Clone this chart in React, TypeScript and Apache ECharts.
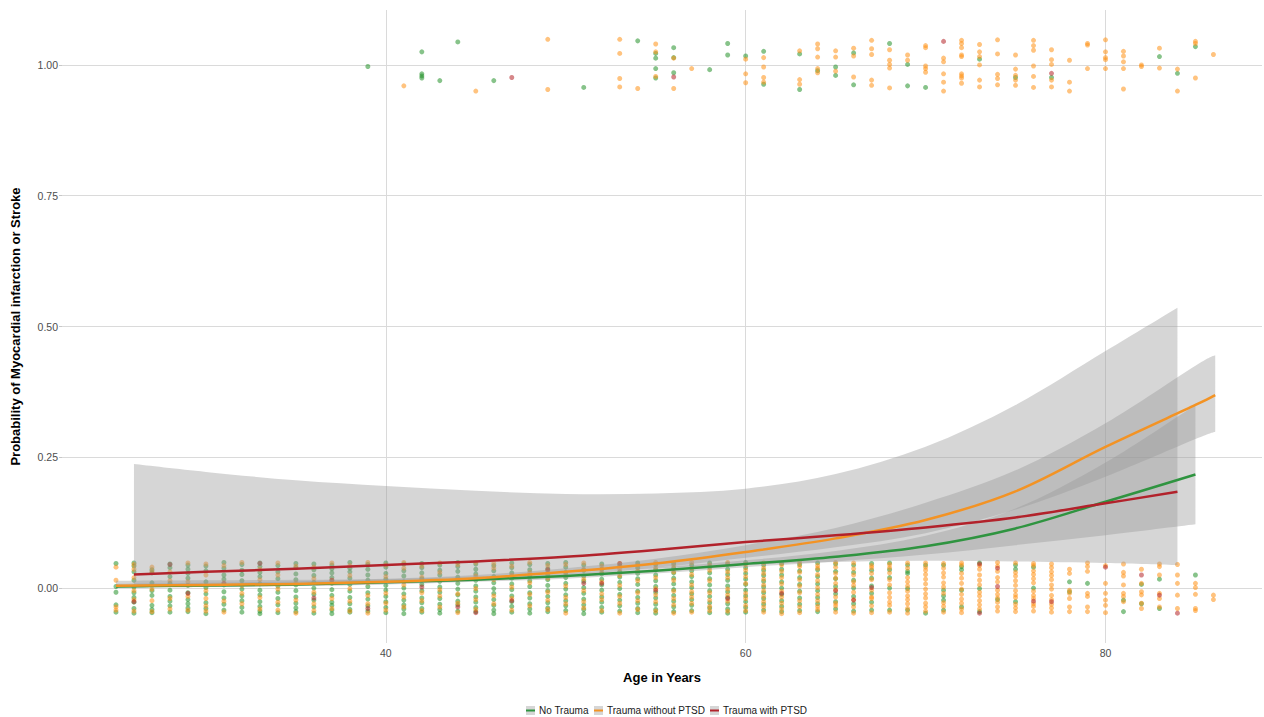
import React, { useEffect, useRef } from 'react';
import * as echarts from 'echarts';

const FONT = '"Liberation Sans", Arial, Helvetica, sans-serif';

const groups = ['No Trauma', 'Trauma without PTSD', 'Trauma with PTSD'];
const lineColors = ['#2f9440', '#f39324', '#b2222b'];
const pointColors = ['rgba(34,145,40,0.68)', 'rgba(255,145,20,0.68)', 'rgba(180,34,38,0.68)'];

const xTicks = [40, 60, 80];
const yTicks = [0, 0.25, 0.5, 0.75, 1];

// Outcome = 0 rows (jittered around 0): [age, No Trauma, Trauma without PTSD, Trauma with PTSD], offsets in hundredths
const zeroRows: [number, string, string, string][] = [
  [25, '4.7 0.3 -0.8 -3.2 -4.6', '4.0 1.5 -3.6 -4.2', ''],
  [26, '4.8 4.2 3.1 1.5 0.2 -0.9 -1.8 -2.7 -3.9 -4.8', '4.5 3.6 2.0 -0.5 -2.2 -4.4', '-2.6'],
  [27, '3.5 2.9 1.0 -0.5 -1.4 -3.3 -4.1 -4.7', '4.0 3.2 -0.2 -2.4 -4.5', ''],
  [28, '4.6 3.9 2.2 0.9 -0.4 -1.6 -2.5 -3.4 -4.6', '3.1 1.4 -2.0 -4.0', '4.5'],
  [29, '4.4 3.6 2.8 1.9 0.5 -0.9 -2.2 -3.0 -3.8 -4.5', '4.8 1.2 -1.6 -4.2', '-1.0'],
  [30, '4.2 3.3 1.2 0.1 -1.1 -2.8 -3.9 -4.9', '4.6 2.5 -0.5 -2.0 -3.4 -4.4', ''],
  [31, '4.9 3.8 2.5 1.7 0.6 -0.7 -1.9 -3.1 -4.2', '4.3 1.0 -2.5 -4.6', '0.9'],
  [32, '4.5 3.4 2.6 1.4 -0.2 -1.5 -2.4 -3.7 -4.6', '4.9 0.5 -1.0 -3.0', ''],
  [33, '4.8 4.1 3.0 2.2 0.8 -0.4 -1.3 -2.6 -3.5 -4.4 -4.9', '3.6 1.6 -1.8 -4.0', '4.7'],
  [34, '4.3 3.1 1.8 0.4 -0.8 -2.0 -3.2 -4.7', '4.8 2.5 -0.2 -2.7 -4.2', ''],
  [35, '4.7 3.9 2.7 1.6 0.6 -0.5 -1.7 -2.9 -3.8 -4.5', '4.2 1.0 -2.3 -4.8', ''],
  [36, '4.6 3.5 2.4 1.1 0.0 -1.2 -2.3 -3.6 -4.8', '4.0 1.8 -0.8 -3.0 -4.3', '-1.9'],
  [37, '4.4 3.7 2.9 2.0 0.9 -0.3 -1.4 -2.7 -3.3 -4.2 -4.9', '4.8 1.5 -2.0 -3.9', '1.5'],
  [38, '4.9 3.8 3.1 1.9 0.7 -0.6 -1.8 -3.0 -4.1 -4.6', '4.3 2.4 -0.1 -2.5 -4.4', ''],
  [39, '4.5 3.6 2.5 1.5 0.3 -0.9 -2.1 -3.4 -4.4', '4.9 1.0 -1.4 -3.0 -4.8', '-3.9'],
  [40, '4.8 4.0 2.8 1.7 0.5 -0.4 -1.6 -2.6 -3.7 -4.7', '4.4 2.2 -1.0 -2.9 -4.2', ''],
  [41, '4.6 3.3 2.3 1.2 0.0 -1.1 -2.3 -3.2 -4.0 -4.9', '4.9 3.8 0.6 -1.7 -3.6', ''],
  [42, '4.7 3.9 2.9 1.8 0.7 -0.5 -1.9 -2.8 -3.9 -4.6', '4.2 2.1 -0.9 -2.4 -4.3', '0.2'],
  [43, '4.4 3.4 2.5 1.3 0.2 -0.8 -2.0 -3.1 -4.1 -4.8', '4.8 3.0 -0.3 -1.5 -3.6', ''],
  [44, '4.9 4.1 3.2 2.1 0.9 -0.2 -1.3 -2.5 -3.2 -4.4', '4.5 1.6 -1.1 -2.9 -4.7', '-3.6'],
  [45, '4.6 3.6 2.7 1.5 0.4 -0.6 -1.7 -2.7 -3.7 -4.5', '4.9 2.3 -0.1 -2.2 -4.1', '-4.7'],
  [46, '4.3 3.3 2.2 1.0 -0.1 -1.0 -2.2 -3.3 -4.2 -4.9', '4.7 3.8 1.6 -1.5 -3.0', ''],
  [47, '4.8 3.9 2.9 1.9 0.8 -0.3 -1.5 -2.6 -3.5 -4.6', '4.2 2.4 0.2 -2.0 -4.2', '-2.4'],
  [48, '4.5 3.5 2.4 1.4 0.3 -0.9 -1.9 -3.0 -4.0 -4.8', '4.9 3.0 1.0 -1.2 -3.4', ''],
  [49, '4.7 3.7 2.6 1.6 0.5 -0.5 -1.6 -2.8 -3.8 -4.5', '4.3 3.3 1.9 -0.8 -2.3 -4.1', '3.5'],
  [50, '4.9 4.0 3.0 2.0 0.9 -0.2 -1.3 -2.4 -3.4 -4.3', '4.5 2.5 0.4 -1.8 -3.0 -4.8', ''],
  [51, '4.4 3.4 2.3 1.3 0.1 -1.0 -2.1 -3.2 -4.1 -4.9', '4.8 3.6 1.7 -0.5 -2.6 -3.8', '0.9'],
  [52, '4.6 3.6 2.7 1.7 0.6 -0.4 -1.7 -2.7 -3.7 -4.6', '4.2 3.0 1.2 -1.1 -2.2 -4.3', '0.9'],
  [53, '4.3 3.1 2.1 1.1 -0.1 -1.2 -2.3 -3.4 -4.4', '4.7 3.7 2.4 0.5 -1.6 -2.9 -4.8', '4.7'],
  [54, '4.8 3.9 2.8 1.8 0.7 -0.6 -1.8 -2.9 -3.9 -4.7', '4.4 3.3 1.4 -0.9 -2.4 -4.1', ''],
  [55, '4.5 3.5 2.5 1.4 0.3 -0.8 -1.9 -3.1 -4.1 -4.8', '4.9 3.9 2.0 -0.1 -1.3 -2.6 -4.4', '-0.4'],
  [56, '4.7 3.8 2.9 1.9 0.8 -0.3 -1.4 -2.5 -3.6 -4.5', '4.3 3.1 1.5 -0.6 -2.0 -3.2 -4.8', ''],
  [57, '4.4 3.3 2.2 1.2 0.1 -1.1 -2.2 -3.3 -4.3', '4.9 3.8 2.6 0.6 -0.7 -1.7 -2.9 -4.6', ''],
  [58, '4.8 4.0 2.9 1.8 0.6 -0.5 -1.6 -2.8 -3.8 -4.7', '4.4 3.4 1.4 -0.9 -2.3 -3.5 -4.3', ''],
  [59, '4.6 3.6 2.6 1.5 0.4 -0.7 -1.8 -3.0 -4.0 -4.8', '4.9 3.1 2.0 -0.2 -1.3 -2.5 -4.4', '-2.0'],
  [60, '4.9 3.9 2.8 1.7 0.7 -0.4 -1.5 -2.6 -3.7 -4.6', '4.5 3.4 2.2 0.9 -1.0 -2.0 -3.3 -4.3', ''],
  [61, '4.4 3.4 2.4 1.3 0.2 -0.9 -2.0 -3.1 -4.2', '4.8 3.8 2.8 1.7 0.6 -0.5 -1.6 -2.6 -3.6 -4.6', ''],
  [62, '4.7 3.6 2.5 1.2 0.0 -1.2 -2.4 -3.5 -4.5', '4.4 3.2 2.0 0.8 -0.6 -1.7 -2.9 -4.0 -4.9', '-1.0'],
  [63, '4.5 3.3 2.0 0.7 -0.6 -1.9 -3.1 -4.3', '4.9 4.1 3.0 1.6 0.4 -0.9 -2.4 -3.6 -4.7', ''],
  [64, '4.8 3.5 2.2 0.8 -0.5 -1.8 -3.0 -4.5', '4.3 3.8 2.6 1.4 0.1 -1.2 -2.4 -3.5 -4.1', ''],
  [65, '4.6 3.2 1.8 0.3 -1.1 -2.6 -4.0', '4.9 4.0 2.8 1.9 0.9 -0.3 -1.7 -2.9 -3.4 -4.6', '-0.5'],
  [66, '4.4 3.0 1.5 0.0 -1.6 -3.0 -4.4', '4.8 3.7 2.5 1.2 0.5 -0.8 -2.2 -3.6 -4.8', '-2.3'],
  [67, '4.7 3.4 1.9 0.4 -1.0 -2.7 -4.2', '4.3 3.9 2.8 1.6 -0.4 -1.7 -2.0 -3.4 -4.7', '0.1'],
  [68, '4.8 3.5 2.0 0.0 -4.2', '4.5 3.9 2.9 1.6 0.6 -0.9 -1.8 -2.7 -3.3 -4.6', ''],
  [69, '4.4 3.2 2.8 -0.1 -4.2', '4.8 3.8 2.0 1.2 0.4 -0.6 -1.5 -2.2 -3.0 -3.9 -4.8', ''],
  [70, '4.4 -4.8', '4.8 4.0 3.4 2.6 1.7 0.8 -0.2 -1.1 -1.9 -2.9 -3.6 -4.4', ''],
  [71, '4.4 -0.4 -1.5 -2.3 -4.2', '4.7 3.8 2.9 2.1 1.0 0.2 -1.0 -2.8 -3.5 -4.6', ''],
  [72, '4.1 3.5 -0.4 -3.6', '4.8 4.4 2.8 1.9 0.9 -0.2 -1.2 -2.1 -2.9 -4.0 -4.7', ''],
  [73, '4.8 -0.1 -4.5', '4.3 3.6 2.5 1.5 0.6 -0.8 -1.5 -2.4 -3.2 -4.0', '4.6 -4.8'],
  [74, '-2.2', '4.9 4.2 3.2 2.0 1.2 -0.4 -1.2 -1.9 -2.7 -3.6 -4.4', '3.8 0.3'],
  [75, '4.4 3.6 -2.6', '4.8 3.0 2.3 1.4 0.5 -0.5 -1.3 -1.8 -3.1 -3.8 -4.5', ''],
  [76, '4.0 0.0', '4.7 4.3 3.3 2.6 1.8 1.0 -0.6 -1.4 -2.0 -3.0 -3.5 -4.4', '-2.5'],
  [77, '', '4.6 3.9 3.1 2.4 1.6 0.6 -0.2 -1.4 -2.2 -3.1 -3.8 -4.6', '-2.6'],
  [78, '1.2 -0.7', '3.6 2.8 -0.4 -1.0 -2.0 -3.6 -4.5', ''],
  [79, '0.9', '4.8 4.1 3.2 -1.0 -1.6 -3.6 -4.5', ''],
  [80, '', '4.3 0.9 -1.0 -2.3 -3.3 -4.7', '4.0'],
  [81, '-2.3 -4.5', '4.6 3.0 2.3 0.6 -1.0 -1.6 -2.6', ''],
  [82, '0.7 -3.0', '3.6 0.9 -0.7 -1.3 -2.9 -3.9', '2.5'],
  [83, '1.7 -3.9', '4.6 4.1 2.5 -1.0 -2.0 -3.6', '-1.35'],
  [84, '', '4.5 2.5 0.9 -1.35 -3.9', '-4.8'],
  [85, '2.5', '0.9 0.1 -1.2 -3.9 -4.3', ''],
  [86, '', '-1.35 -2.2', ''],
];

// Outcome = 1 points: [age, jittered value]
const topNoTrauma: [number, number][] = [
  [39, 0.997], [42, 1.025], [42, 0.983], [42, 0.979], [42, 0.975], [43, 0.970], [44, 1.044], [46, 0.970],
  [51, 0.957], [54, 1.046], [55, 1.022], [55, 1.013], [55, 0.993], [55, 0.975], [56, 1.033], [56, 1.014],
  [56, 0.985], [58, 0.991], [59, 1.041], [59, 1.019], [60, 1.017], [61, 1.026], [61, 0.963], [63, 1.021],
  [63, 0.953], [64, 0.989], [65, 0.996], [65, 0.980], [66, 1.023], [66, 0.962], [68, 1.041], [69, 1.001],
  [69, 0.960], [70, 0.957], [73, 1.011], [75, 0.976], [77, 0.976], [83, 1.016], [84, 0.984], [85, 1.035],
];
const topTraumaNoPTSD: [number, number][] = [
  [41, 0.960], [45, 0.950], [49, 1.049], [49, 0.953], [53, 1.049], [53, 1.022], [53, 0.974], [53, 0.958],
  [54, 0.955], [55, 1.040], [55, 1.025], [55, 0.978], [56, 1.013], [56, 0.955], [57, 0.993], [60, 1.011],
  [60, 0.983], [60, 0.966], [61, 1.014], [61, 0.996], [61, 0.976], [61, 0.967], [63, 1.027], [63, 0.972],
  [63, 0.963], [64, 1.040], [64, 1.031], [64, 1.015], [64, 0.993], [64, 0.985], [65, 1.027], [65, 1.015],
  [65, 0.988], [66, 1.032], [66, 1.017], [66, 0.977], [67, 1.047], [67, 1.031], [67, 1.020], [67, 0.971],
  [67, 0.961], [68, 1.029], [68, 1.009], [68, 1.001], [68, 0.994], [68, 0.956], [69, 1.019], [69, 1.009],
  [70, 1.037], [70, 1.033], [70, 0.998], [70, 0.993], [70, 0.986], [71, 1.013], [71, 1.006], [71, 0.983],
  [71, 0.967], [71, 0.950], [72, 1.047], [72, 1.041], [72, 1.033], [72, 1.019], [72, 1.016], [72, 0.983],
  [72, 0.979], [72, 0.975], [72, 0.965], [73, 1.039], [73, 1.025], [73, 1.016], [73, 1.000], [73, 0.971],
  [73, 0.958], [74, 1.048], [74, 1.021], [74, 0.982], [74, 0.974], [74, 0.962], [75, 1.019], [75, 0.992],
  [75, 0.980], [75, 0.971], [75, 0.961], [76, 1.047], [76, 1.037], [76, 1.028], [76, 0.998], [76, 0.978],
  [76, 0.957], [77, 1.029], [77, 1.010], [77, 1.001], [77, 0.971], [77, 0.958], [78, 1.009], [78, 0.967],
  [78, 0.950], [79, 1.041], [79, 1.038], [79, 0.993], [80, 1.048], [80, 1.025], [80, 1.014], [80, 1.010],
  [80, 0.993], [81, 1.026], [81, 1.017], [81, 1.006], [81, 0.993], [81, 0.954], [82, 1.000], [82, 0.997],
  [83, 1.032], [83, 0.994], [84, 0.992], [84, 0.950], [85, 1.045], [85, 1.041], [85, 0.975], [86, 1.020],
];
const topTraumaPTSD: [number, number][] = [[47, 0.976], [56, 0.977], [71, 1.045], [77, 0.984]];

// Logistic fits with 95% confidence bands
const agesNoTrauma = [25, 30, 35, 40, 45, 50, 55, 60, 65, 70, 75, 80, 85];
const fitNoTrauma = [0.003, 0.005, 0.007, 0.011, 0.016, 0.023, 0.033, 0.046, 0.06, 0.08, 0.114, 0.165, 0.217];
const lowNoTrauma = [0.001, 0.002, 0.004, 0.007, 0.012, 0.018, 0.028, 0.04, 0.051, 0.064, 0.082, 0.101, 0.122];
const highNoTrauma = [0.008, 0.01, 0.013, 0.017, 0.022, 0.029, 0.039, 0.053, 0.071, 0.1, 0.152, 0.24, 0.35];

const agesTraumaNoPTSD = [25, 30, 35, 40, 45, 50, 55, 60, 65, 70, 75, 80, 85, 86.1];
const fitTraumaNoPTSD = [0.0045, 0.006, 0.008, 0.012, 0.019, 0.031, 0.047, 0.069, 0.095, 0.13, 0.185, 0.27, 0.35, 0.369];
const lowTraumaNoPTSD = [0.001, 0.002, 0.004, 0.008, 0.014, 0.025, 0.039, 0.058, 0.078, 0.105, 0.15, 0.213, 0.285, 0.299];
const highTraumaNoPTSD = [0.014, 0.015, 0.016, 0.018, 0.025, 0.038, 0.056, 0.082, 0.115, 0.163, 0.225, 0.315, 0.425, 0.445];

const agesTraumaPTSD = [26, 30, 35, 40, 45, 50, 55, 60, 65, 70, 75, 80, 84];
const fitTraumaPTSD = [0.026, 0.031, 0.037, 0.044, 0.051, 0.06, 0.073, 0.088, 0.101, 0.116, 0.135, 0.162, 0.184];
const lowTraumaPTSD = [0.003, 0.005, 0.009, 0.014, 0.021, 0.03, 0.038, 0.045, 0.05, 0.052, 0.051, 0.048, 0.044];
const highTraumaPTSD = [0.237, 0.222, 0.206, 0.195, 0.186, 0.18, 0.181, 0.19, 0.218, 0.27, 0.35, 0.453, 0.536];

const fits = [
  { ages: agesNoTrauma, fit: fitNoTrauma, low: lowNoTrauma, high: highNoTrauma },
  { ages: agesTraumaNoPTSD, fit: fitTraumaNoPTSD, low: lowTraumaNoPTSD, high: highTraumaNoPTSD },
  { ages: agesTraumaPTSD, fit: fitTraumaPTSD, low: lowTraumaPTSD, high: highTraumaPTSD },
];
const tops = [topNoTrauma, topTraumaNoPTSD, topTraumaPTSD];

// legend layout (pixels)
const legendKeyX = [526, 594, 710];
const legendTextX = [539, 607, 723];

// Catmull-Rom spline through pixel points -> SVG path commands (without the initial move)
function splineSegs(p: number[][]): string {
  let d = '';
  for (let i = 0; i < p.length - 1; i++) {
    const p0 = p[Math.max(0, i - 1)];
    const p1 = p[i];
    const p2 = p[i + 1];
    const p3 = p[Math.min(p.length - 1, i + 2)];
    const c1x = p1[0] + (p2[0] - p0[0]) / 6;
    const c1y = p1[1] + (p2[1] - p0[1]) / 6;
    const c2x = p2[0] - (p3[0] - p1[0]) / 6;
    const c2y = p2[1] - (p3[1] - p1[1]) / 6;
    d += ` C ${c1x} ${c1y} ${c2x} ${c2y} ${p2[0]} ${p2[1]}`;
  }
  return d;
}

function buildOption() {
  const series: any[] = [];

  // gridlines via markLine
  series.push({
    type: 'line',
    data: [[40, 0]],
    symbol: 'none',
    silent: true,
    z: 0,
    lineStyle: { opacity: 0 },
    markLine: {
      silent: true,
      z: 0,
      symbol: ['none', 'none'],
      label: { show: false },
      lineStyle: { color: '#dadada', width: 1, type: 'solid' },
      emphasis: { disabled: true },
      data: [...xTicks.map((v) => ({ xAxis: v })), ...yTicks.map((v) => ({ yAxis: v }))],
    },
  });

  groups.forEach((g, gi) => {
    const pts: [number, number][] = [];
    zeroRows.forEach((row) => {
      const s = row[gi + 1];
      s.split(/\s+/).filter(Boolean).forEach((t) => pts.push([row[0], Number(t) / 100]));
    });
    tops[gi].forEach((p) => pts.push([p[0], p[1]]));
    series.push({
      name: g + ' points',
      type: 'scatter',
      data: pts,
      symbolSize: 5,
      z: 2,
      silent: true,
      itemStyle: { color: pointColors[gi], borderWidth: 0 },
    });
  });

  // confidence bands
  fits.forEach((f, gi) => {
    series.push({
      type: 'custom',
      z: 3,
      silent: true,
      data: f.ages.map((a, i) => [a, f.low[i], f.high[i]]),
      encode: { x: 0, y: [1, 2] },
      renderItem: (params: any, api: any) => {
        if (params.dataIndex !== 0) return null;
        const up = f.ages.map((a, i) => api.coord([a, f.high[i]]));
        const lo = f.ages.map((a, i) => api.coord([a, f.low[i]])).reverse();
        const d =
          `M ${up[0][0]} ${up[0][1]}` +
          splineSegs(up) +
          ` L ${lo[0][0]} ${lo[0][1]}` +
          splineSegs(lo) +
          ' Z';
        return {
          type: 'path',
          shape: { pathData: d },
          style: { fill: 'rgba(153,153,153,0.4)', stroke: 'none' },
        };
      },
    });
  });

  // fitted lines
  fits.forEach((f, gi) => {
    series.push({
      name: groups[gi],
      type: 'custom',
      z: 4,
      silent: true,
      data: f.ages.map((a, i) => [a, f.fit[i]]),
      encode: { x: 0, y: 1 },
      renderItem: (params: any, api: any) => {
        if (params.dataIndex !== 0) return null;
        const pts = f.ages.map((a, i) => api.coord([a, f.fit[i]]));
        const d = `M ${pts[0][0]} ${pts[0][1]}` + splineSegs(pts);
        return {
          type: 'path',
          shape: { pathData: d },
          style: { fill: 'none', stroke: lineColors[gi], lineWidth: 2.5, lineCap: 'butt' },
        };
      },
    });
  });

  const graphic: any[] = [];
  groups.forEach((g, gi) => {
    graphic.push({
      type: 'rect',
      left: legendKeyX[gi],
      top: 706,
      shape: { width: 9, height: 9 },
      style: { fill: '#d6d6d6' },
    });
    graphic.push({
      type: 'rect',
      left: legendKeyX[gi],
      top: 709.5,
      shape: { width: 9, height: 2 },
      style: { fill: lineColors[gi] },
    });
    graphic.push({
      type: 'text',
      left: legendTextX[gi],
      top: 705,
      style: { text: g, fontSize: 10, fontFamily: FONT, fill: '#1a1a1a' },
    });
  });

  return {
    animation: false,
    backgroundColor: '#ffffff',
    grid: { left: 62, right: 2, top: 10, bottom: 74, containLabel: false, outerBoundsMode: 'none' },
    xAxis: {
      type: 'value',
      min: 22,
      max: 88.7,
      name: 'Age in Years',
      nameLocation: 'middle',
      nameGap: 28,
      nameTextStyle: { fontFamily: FONT, fontSize: 13, fontWeight: 'bold', color: '#000' },
      axisLine: { show: false },
      axisTick: { show: true, customValues: xTicks, length: 3, lineStyle: { color: '#c8c8c8' } },
      axisLabel: {
        customValues: xTicks,
        color: '#4d4d4d',
        fontFamily: FONT,
        fontSize: 10.5,
        margin: 4,
      },
      splitLine: { show: false },
    },
    yAxis: {
      type: 'value',
      min: -0.105,
      max: 1.105,
      name: 'Probability of Myocardial infarction or Stroke',
      nameLocation: 'middle',
      nameGap: 40,
      nameTextStyle: { fontFamily: FONT, fontSize: 13, fontWeight: 'bold', color: '#000' },
      axisLine: { show: false },
      axisTick: { show: true, customValues: yTicks, length: 3, lineStyle: { color: '#c8c8c8' } },
      axisLabel: {
        customValues: yTicks,
        color: '#4d4d4d',
        fontFamily: FONT,
        fontSize: 10.5,
        margin: 4,
        formatter: (v: number) => v.toFixed(2),
      },
      splitLine: { show: false },
    },
    graphic,
    series,
  };
}

export default function App() {
  const ref = useRef<HTMLDivElement>(null);
  useEffect(() => {
    if (!ref.current) return;
    const chart = echarts.init(ref.current, undefined, { renderer: 'svg' });
    chart.setOption(buildOption() as any);
    return () => chart.dispose();
  }, []);
  return (
    <div
      ref={ref}
      style={{ position: 'fixed', left: 0, top: 0, width: 1264, height: 717, background: '#fff' }}
    />
  );
}
